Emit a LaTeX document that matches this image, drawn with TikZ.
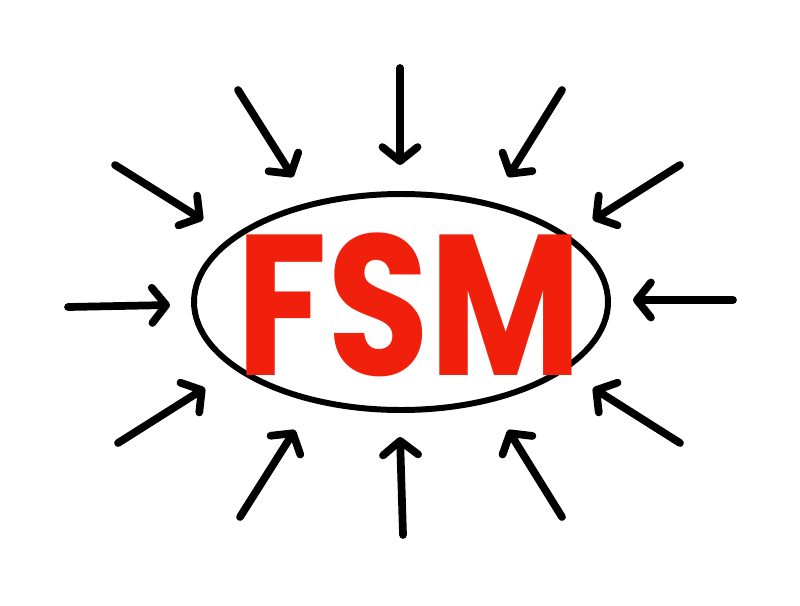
\documentclass[tikz,border=0pt]{standalone}
\usepackage{fontspec}
\usepackage{tikz}
\usetikzlibrary{arrows.meta}
\newfontfamily\markerfont{Poppins}[UprightFont=* Bold]
\definecolor{fsmred}{RGB}{240,32,12}

\begin{document}
\begin{tikzpicture}[
	pointer/.style = {line width=4.4pt, line cap=round, line join=round,
		-{Straight Barb[length=8pt, width=20pt, line cap=round, line join=round]}}
	]
	\useasboundingbox (0,0) rectangle (16,-12.1);
	\draw [line width=3.4pt] (8.02,-6.04) ellipse [x radius=4.14, y radius=2.16];
	\node (fsm) at (8.18,-6.1) [text=fsmred, xscale=.83] {\markerfont\fontsize{114}{114}\selectfont FSM};

	\coordinate (n1a) at (8,-1.36);     \coordinate (n1b) at (8,-3.3);
	\coordinate (n2a) at (4.76,-1.8);   \coordinate (n2b) at (5.86,-3.54);
	\coordinate (n3a) at (11.24,-1.8);  \coordinate (n3b) at (10.16,-3.54);
	\coordinate (n4a) at (2.3,-3.3);    \coordinate (n4b) at (4.06,-4.4);
	\coordinate (n5a) at (13.6,-3.3);   \coordinate (n5b) at (11.86,-4.4);
	\coordinate (n6a) at (1.36,-6.14);  \coordinate (n6b) at (3.4,-6.1);
	\coordinate (n7a) at (14.66,-6.0);  \coordinate (n7b) at (12.66,-6.0);
	\coordinate (n8a) at (2.36,-8.86);  \coordinate (n8b) at (4.1,-7.76);
	\coordinate (n9a) at (13.6,-8.86);  \coordinate (n9b) at (11.86,-7.76);
	\coordinate (n10a) at (4.8,-10.34); \coordinate (n10b) at (5.9,-8.6);
	\coordinate (n11a) at (11.24,-10.34); \coordinate (n11b) at (10.16,-8.6);
	\coordinate (n12a) at (8.06,-10.7); \coordinate (n12b) at (8,-8.74);

	\foreach \i in {1,...,12}
		\draw [pointer] (n\i a) -- (n\i b);

\end{tikzpicture}
\end{document}
